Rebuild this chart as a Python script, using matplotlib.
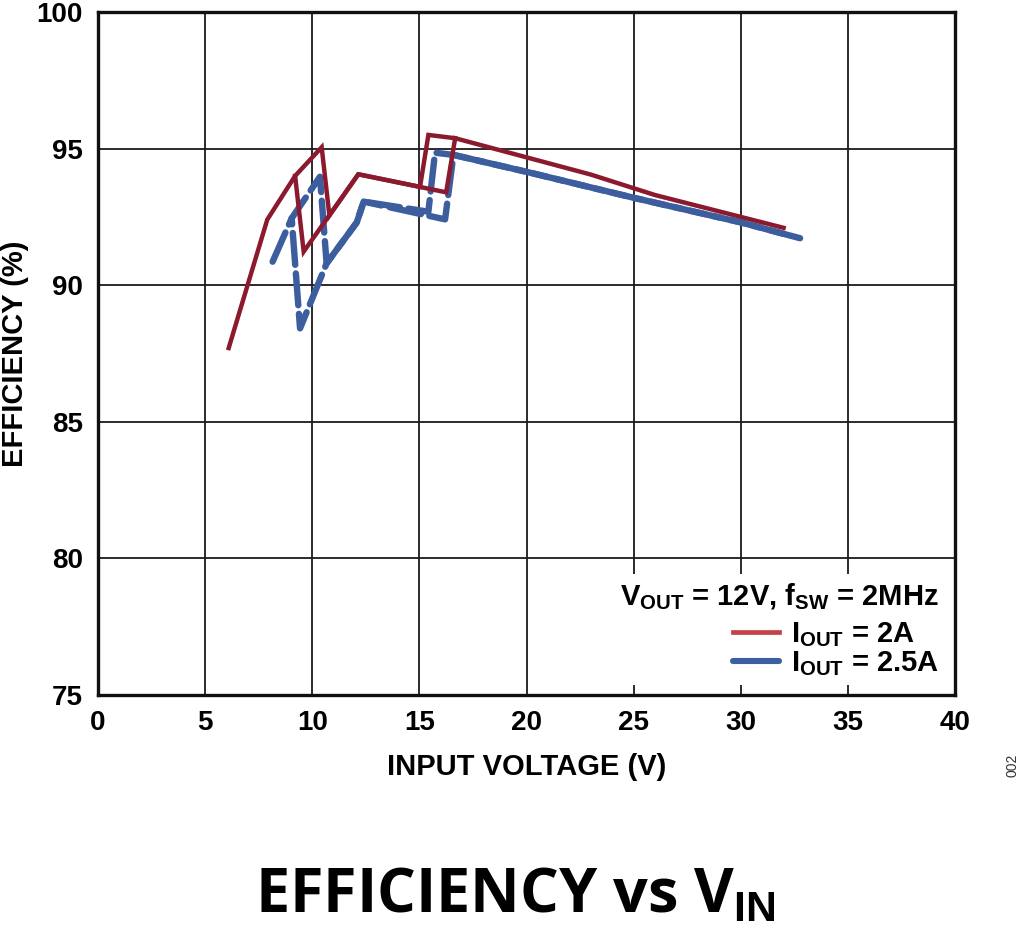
import numpy as np
import matplotlib
matplotlib.use('Agg')
import matplotlib.pyplot as plt
from matplotlib.lines import Line2D

# efficiency vs input voltage, two load currents, up and down sweeps (hysteresis)
vin_2a_up = [6.1, 7.9, 9.2, 10.44, 10.8, 12.15, 16.25, 16.67, 23.0, 26.0, 32.0]
eff_2a_up = [87.7, 92.4, 94.0, 95.05, 92.55, 94.06, 93.4, 95.38, 94.05, 93.3, 92.1]
vin_2a_dn = [16.67, 15.42, 15.03, 12.15, 9.6, 9.2]
eff_2a_dn = [95.38, 95.5, 93.6, 94.06, 91.23, 94.0]

vin_25a_up = [8.15, 9.04, 10.36, 10.67, 12.08, 12.4, 16.2, 16.59, 20.0, 25.0, 30.0, 33.1]
eff_25a_up = [90.86, 92.45, 93.97, 90.8, 92.3, 93.06, 92.41, 94.77, 94.15, 93.2, 92.3, 91.65]
vin_25a_dn = [32.0, 30.0, 25.0, 20.0, 16.59, 15.73, 15.42, 12.4, 12.08, 10.67, 9.43, 9.04]
eff_25a_dn = [91.88, 92.3, 93.2, 94.15, 94.77, 94.85, 92.69, 93.06, 92.3, 90.8, 88.42, 92.45]

xticks = [0, 5, 10, 15, 20, 25, 30, 35, 40]
yticks = [75, 80, 85, 90, 95, 100]

plt.rcParams['font.family'] = ['Liberation Sans', 'DejaVu Sans']
plt.rcParams['mathtext.fontset'] = 'custom'
plt.rcParams['mathtext.rm'] = 'Liberation Sans:bold'
plt.rcParams['mathtext.bf'] = 'Liberation Sans:bold'
plt.rcParams['mathtext.it'] = 'Liberation Sans:bold'

red = '#8c1a2e'
blue = '#3c5e9e'

fig = plt.figure(figsize=(10.21, 9.31), dpi=100)
ax = fig.add_axes([98/1021, 1 - 695/931, (955-98)/1021, (695-12)/931])

ax.plot(vin_2a_up, eff_2a_up, color=red, lw=3.2, solid_joinstyle='miter', zorder=3)
ax.plot(vin_2a_dn, eff_2a_dn, color=red, lw=3.2, solid_joinstyle='miter', zorder=3)
ax.plot(vin_25a_up, eff_25a_up, color=blue, lw=4.6, ls=(0, (5, 1.35)),
        dash_capstyle='round', zorder=2)
ax.plot(vin_25a_dn, eff_25a_dn, color=blue, lw=4.6, ls=(0, (5, 1.35)),
        dash_capstyle='round', zorder=2)

ax.set_xlim(0, 40)
ax.set_ylim(75, 100)
ax.set_xticks(xticks)
ax.set_yticks(yticks)
ax.grid(True, color='#1a1a1a', lw=1.3)
ax.set_axisbelow(True)
ax.tick_params(length=0, labelsize=20, pad=11)
for lab in ax.get_xticklabels() + ax.get_yticklabels():
    lab.set_fontweight('bold')
for s in ax.spines.values():
    s.set_linewidth(2.4)
    s.set_color('#111111')

ax.set_xlabel('INPUT VOLTAGE (V)', fontsize=21, fontweight='bold')
ax.set_ylabel('EFFICIENCY (%)', fontsize=21, fontweight='bold')
ax.xaxis.set_label_coords(0.5, (695 - 753) / 683)
ax.yaxis.set_label_coords((29 - 98) / 857, 0.5)

handles = [Line2D([], [], color='#c4424a', lw=3.4),
           Line2D([], [], color='#3d5fa0', lw=4.4, solid_capstyle='round')]
leg = ax.legend(handles, [r'I$_{\rm OUT}$ = 2A', r'I$_{\rm OUT}$ = 2.5A'],
                title=r'V$_{\rm OUT}$ = 12V, f$_{\rm SW}$ = 2MHz',
                loc='lower right', bbox_to_anchor=((946 - 98) / 857, 10 / 683),
                fontsize=21, title_fontsize=21,
                frameon=True, fancybox=False, edgecolor='none', framealpha=1,
                handlelength=1.6, handletextpad=0.38, labelspacing=0.0,
                alignment='right', borderaxespad=0.0, borderpad=0.25)
leg._legend_box.sep = 6
for t in leg.get_texts():
    t.set_fontweight('bold')
leg.get_title().set_fontweight('bold')

fig.text(1012/1021, 1 - 765/931, '002', rotation=90, fontsize=10,
         color='#333333', ha='center', va='center')
fig.text(515/1021, 1 - 897/931, r'EFFICIENCY vs V$_{\mathrm{IN}}$',
         fontsize=44, fontweight='bold', ha='center', va='center',
         family=['Open Sans', 'DejaVu Sans'])

fig.savefig('out.png', dpi=100)
